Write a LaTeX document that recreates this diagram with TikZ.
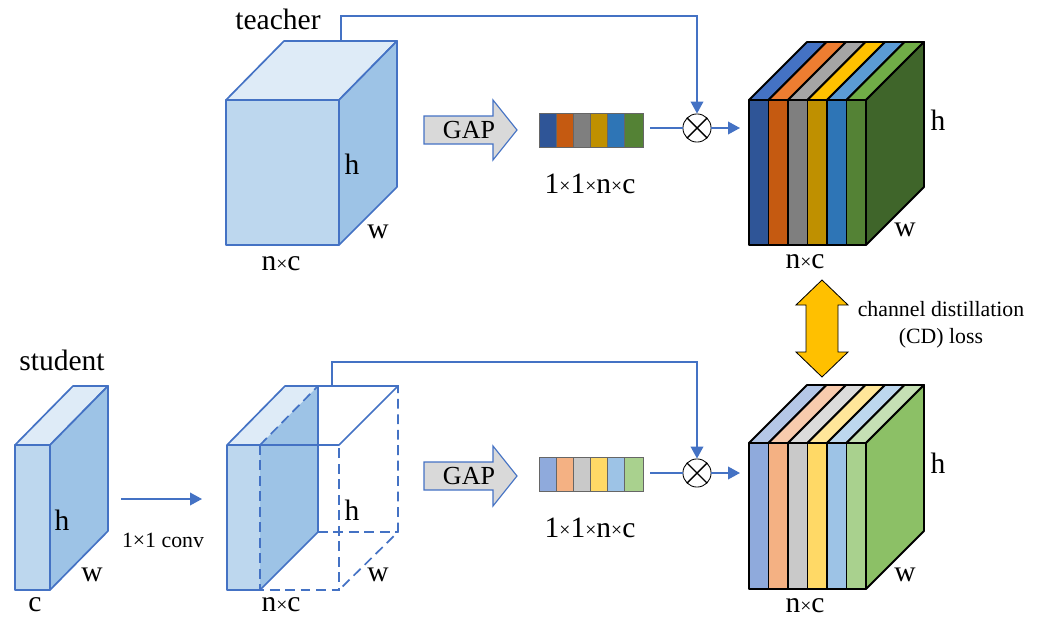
\documentclass[tikz,border=0pt]{standalone}
\usepackage{fontspec}
\setmainfont{Liberation Serif}
\usetikzlibrary{arrows.meta}

\definecolor{lineblue}{HTML}{4472C4}
\definecolor{frontblue}{HTML}{BDD7EE}
\definecolor{topblue}{HTML}{DEEBF7}
\definecolor{sideblue}{HTML}{9DC3E6}
\definecolor{gapgray}{HTML}{D9D9D9}
\definecolor{cdyellow}{HTML}{FFC000}
% teacher channels
\definecolor{tA}{HTML}{2F5597}\definecolor{tAt}{HTML}{4472C4}
\definecolor{tB}{HTML}{C55A11}\definecolor{tBt}{HTML}{ED7D31}
\definecolor{tC}{HTML}{7F7F7F}\definecolor{tCt}{HTML}{A5A5A5}
\definecolor{tD}{HTML}{BF9000}\definecolor{tDt}{HTML}{FFC000}
\definecolor{tE}{HTML}{2E75B6}\definecolor{tEt}{HTML}{5B9BD5}
\definecolor{tF}{HTML}{548235}\definecolor{tFt}{HTML}{70AD47}
\definecolor{tside}{HTML}{3F652A}
% student channels
\definecolor{sA}{HTML}{8FAADC}\definecolor{sAt}{HTML}{B4C7E7}
\definecolor{sB}{HTML}{F4B183}\definecolor{sBt}{HTML}{F8CBAD}
\definecolor{sC}{HTML}{C9C9C9}\definecolor{sCt}{HTML}{DBDBDB}
\definecolor{sD}{HTML}{FFD966}\definecolor{sDt}{HTML}{FFE699}
\definecolor{sE}{HTML}{9DC3E6}\definecolor{sEt}{HTML}{BDD7EE}
\definecolor{sF}{HTML}{A9D18E}\definecolor{sFt}{HTML}{C5E0B4}
\definecolor{sside}{HTML}{8CC066}

\newcommand{\tms}{\raisebox{0.5pt}{\fontsize{14}{14}\selectfont ×}}

\tikzset{
  cube/.style={draw=lineblue, line width=1.2pt, line join=round},
  hidden/.style={draw=lineblue, line width=1.2pt, dash pattern=on 7pt off 4pt},
  slice/.style={draw=black, line width=1.3pt, line join=round},
  cell/.style={draw=black!60, line width=0.6pt},
  link/.style={draw=lineblue, line width=1.1pt},
  flow/.style={link, -{Triangle[length=8.5pt,width=9pt]}},
  big/.style={inner sep=0pt, font=\fontsize{21}{25}\selectfont},
  mid/.style={inner sep=0pt, font=\fontsize{18.5}{22}\selectfont},
  small/.style={inner sep=0pt, font=\fontsize{15.5}{19}\selectfont},
  mult/.style={circle, draw=black, fill=white, line width=0.6pt, minimum size=20pt, inner sep=0pt}
}

\begin{document}
\begin{tikzpicture}[x=0.025cm, y=-0.025cm]
\useasboundingbox (0,0) rectangle (1040,618);

% teacher feature map
\draw[cube, fill=frontblue] (226,100) rectangle (339,245);
\draw[cube, fill=topblue] (226,100) -- (284,41) -- (397,41) -- (339,100) -- cycle;
\draw[cube, fill=sideblue] (339,100) -- (397,41) -- (397,187) -- (339,245) -- cycle;
\node[big] (teacher) at (278,19) {teacher};
\node[big] (th) at (352,164) {h};
\node[big] (tw) at (378,232) {w};
\node[big] (tnc) at (281,264) {n\tms c};

% teacher GAP
\draw[lineblue, fill=gapgray, line width=0.8pt] (424,116) -- (493,116) -- (493,100) -- (517,130)
  -- (493,160) -- (493,144) -- (424,144) -- cycle;
\node[mid] (tgap) at (469,130) {GAP};

% teacher vector
\foreach \i/\c in {0/tA,1/tB,2/tC,3/tD,4/tE}
  \draw[cell, fill=\c] ({539+\i*17},113) rectangle ({556+\i*17},147);
\draw[cell, fill=tF] (624,113) rectangle (643,147);
\node[big] (tvlabel) at (590,184) {1\tms 1\tms n\tms c};
\coordinate (tvec) at (650,128);

% teacher product
\node[mult] (tmul) at (697,128) {};
\draw[line width=1pt] (tmul.north west) -- (tmul.south east) (tmul.north east) -- (tmul.south west);
\coordinate (ttop) at (341,41);
\coordinate (tin) at (740,128);
\draw[flow] (ttop) -- (341,16) -| (tmul.north);
\draw[link] (tvec) -- (tmul.west);
\draw[flow] (tmul.east) -- (tin);

% teacher channel cube
\foreach \i/\c/\ct in {0/tA/tAt,1/tB/tBt,2/tC/tCt,3/tD/tDt,4/tE/tEt,5/tF/tFt}{
  \draw[slice, fill=\c] ({749+\i*19.5},100) rectangle ({768.5+\i*19.5},245);
  \draw[slice, fill=\ct] ({749+\i*19.5},100) -- ({807+\i*19.5},42) -- ({826.5+\i*19.5},42)
    -- ({768.5+\i*19.5},100) -- cycle;
}
\draw[slice, fill=tside] (866,100) -- (924,42) -- (924,187) -- (866,245) -- cycle;
\node[big] (toh) at (938,120) {h};
\node[big] (tow) at (905,230) {w};
\node[big] (tonc) at (805,262) {n\tms c};

% CD loss
\draw[black, fill=cdyellow, line width=0.6pt] (822,280) -- (848,305) -- (838,305) -- (838,352)
  -- (848,352) -- (822,377) -- (796,352) -- (806,352) -- (806,305) -- (796,305) -- cycle;
\node[small] (cd1) at (941,309) {channel distillation};
\node[small] (cd2) at (941,338) {(CD) loss};

% student feature map
\draw[cube, fill=frontblue] (15,445) rectangle (50,590);
\draw[cube, fill=topblue] (15,445) -- (73,386) -- (108,386) -- (50,445) -- cycle;
\draw[cube, fill=sideblue] (50,445) -- (108,386) -- (108,531) -- (50,590) -- cycle;
\node[big] (student) at (62,360) {student};
\node[big] (sh) at (62,520) {h};
\node[big] (sw) at (92,575) {w};
\node[big] (sc) at (35,605) {c};

% 1x1 conv
\coordinate (convs) at (121,499);
\coordinate (conve) at (202,499);
\draw[flow] (convs) -- (conve);
\node[small] (conv) at (163,540) {1×1 conv};

% converted student map
\fill[frontblue] (227,445) rectangle (260,590);
\fill[topblue] (227,445) -- (285,386) -- (318,386) -- (260,445) -- cycle;
\fill[sideblue] (260,445) -- (318,386) -- (318,532) -- (260,590) -- cycle;
\draw[cube] (260,590) -- (227,590) -- (227,445) -- (339,445) -- (398,386) -- (318,386) -- (285,386) -- (227,445);
\draw[cube] (318,386) -- (318,532) -- (260,590);
\draw[hidden] (260,445) -- (260,590) -- (339,590) -- (339,445);
\draw[hidden] (260,445) -- (318,386);
\draw[hidden] (318,386) -- (398,386) -- (398,532) -- (339,590);
\draw[hidden] (318,532) -- (398,532);
\node[big] (mh) at (352,510) {h};
\node[big] (mw) at (378,575) {w};
\node[big] (mnc) at (281,605) {n\tms c};

% student GAP
\draw[lineblue, fill=gapgray, line width=0.8pt] (424,462) -- (493,462) -- (493,446) -- (517,476)
  -- (493,506) -- (493,490) -- (424,490) -- cycle;
\node[mid] (sgap) at (469,476) {GAP};

% student vector
\foreach \i/\c in {0/sA,1/sB,2/sC,3/sD,4/sE}
  \draw[cell, fill=\c] ({539+\i*17},457) rectangle ({556+\i*17},491);
\draw[cell, fill=sF] (624,457) rectangle (643,491);
\node[big] (svlabel) at (590,528) {1\tms 1\tms n\tms c};
\coordinate (svec) at (650,473);

% student product
\node[mult] (smul) at (697,473) {};
\draw[line width=1pt] (smul.north west) -- (smul.south east) (smul.north east) -- (smul.south west);
\coordinate (stop) at (332,386);
\coordinate (sin) at (740,473);
\draw[flow] (stop) -- (332,362) -| (smul.north);
\draw[link] (svec) -- (smul.west);
\draw[flow] (smul.east) -- (sin);

% student channel cube
\foreach \i/\c/\ct in {0/sA/sAt,1/sB/sBt,2/sC/sCt,3/sD/sDt,4/sE/sEt,5/sF/sFt}{
  \draw[slice, fill=\c] ({749+\i*19.5},443) rectangle ({768.5+\i*19.5},589);
  \draw[slice, fill=\ct] ({749+\i*19.5},443) -- ({807+\i*19.5},385) -- ({826.5+\i*19.5},385)
    -- ({768.5+\i*19.5},443) -- cycle;
}
\draw[slice, fill=sside] (866,443) -- (924,385) -- (924,531) -- (866,589) -- cycle;
\node[big] (soh) at (938,463) {h};
\node[big] (sow) at (905,575) {w};
\node[big] (sonc) at (805,606) {n\tms c};

\end{tikzpicture}
\end{document}
